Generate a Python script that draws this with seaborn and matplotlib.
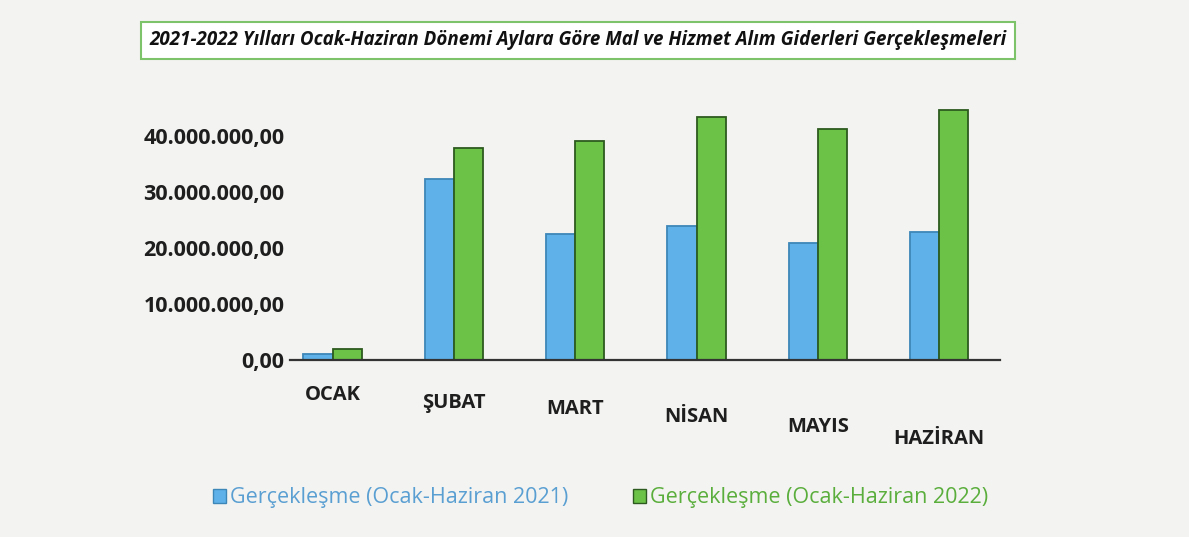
import pandas as pd
import seaborn as sns
import matplotlib.pyplot as plt
import matplotlib.transforms as mtransforms
from matplotlib.ticker import FuncFormatter

months = ['OCAK', 'ŞUBAT', 'MART', 'NİSAN', 'MAYIS', 'HAZİRAN']
values_2021 = [1000000, 32300000, 22400000, 23900000, 20800000, 22800000]
values_2022 = [2000000, 37800000, 39100000, 43400000, 41300000, 44700000]
series_names = ['Gerçekleşme (Ocak-Haziran 2021)', 'Gerçekleşme (Ocak-Haziran 2022)']

BLUE = '#5fb2e9'
GREEN = '#6cc247'


def build_frame():
    df = pd.DataFrame({
        'Ay': months * 2,
        'Tutar': values_2021 + values_2022,
        'Seri': [series_names[0]] * len(months) + [series_names[1]] * len(months),
    })
    return df


def tr_format(x, pos=None):
    s = '{:,.2f}'.format(x)
    return s.replace(',', 'X').replace('.', ',').replace('X', '.')


def draw(df):
    fig = plt.figure(figsize=(11.89, 5.37), dpi=100, facecolor='#f3f3f1')
    ax = fig.add_axes([0.244, 0.33, 0.597, 0.50])
    ax.set_facecolor('none')

    sns.barplot(data=df, x='Ay', y='Tutar', hue='Seri', hue_order=series_names,
                palette=[BLUE, GREEN], saturation=1, width=0.48, ax=ax, legend=False)
    for bar, col in zip(ax.patches, [BLUE] * 6 + [GREEN] * 6):
        bar.set_edgecolor('#3d86b8' if col == BLUE else '#2c5a1f')
        bar.set_linewidth(1.3)

    ax.set_xlim(-0.35, 5.5)
    ax.set_ylim(0, 48000000)
    ax.set_yticks([0, 10000000, 20000000, 30000000, 40000000])
    ax.yaxis.set_major_formatter(FuncFormatter(tr_format))
    ax.set_xlabel('')
    ax.set_ylabel('')
    ax.tick_params(axis='y', length=0, labelsize=15.5, pad=4, labelcolor='#1e1e1e')
    ax.tick_params(axis='x', length=0, labelsize=14.5, pad=18, labelcolor='#1e1e1e')
    for lab in ax.get_yticklabels() + ax.get_xticklabels():
        lab.set_fontweight('bold')
    # the original is drawn in perspective, so the month labels step down
    drops = [0, 8, 14, 22, 32, 44]
    for lab, d in zip(ax.get_xticklabels(), drops):
        lab.set_transform(lab.get_transform() + mtransforms.ScaledTranslation(0, -d / 100, fig.dpi_scale_trans))
    for side in ['top', 'right', 'left']:
        ax.spines[side].set_visible(False)
    ax.spines['bottom'].set_color('#333333')
    ax.spines['bottom'].set_linewidth(1.6)

    fig.text(0.486, 0.925, '2021-2022 Yılları Ocak-Haziran Dönemi Aylara Göre Mal ve Hizmet Alım Giderleri Gerçekleşmeleri',
             ha='center', va='center', fontsize=13.5, fontweight='bold', style='italic', color='#111111',
             bbox=dict(boxstyle='square,pad=0.45', facecolor='white', edgecolor='#7cc36a', linewidth=1.5))

    handles = [plt.Rectangle((0, 0), 1, 1, facecolor=BLUE, edgecolor='#3d86b8'),
               plt.Rectangle((0, 0), 1, 1, facecolor=GREEN, edgecolor='#2c5a1f')]
    fig.legend(handles, series_names, loc='center', bbox_to_anchor=(0.505, 0.073), ncol=2,
               frameon=False, fontsize=15.5, handlelength=0.6, handleheight=0.6,
               handletextpad=0.2, columnspacing=3.0, labelcolor=['#5a9fd2', '#5aae3c'])

    fig.savefig('out.png', dpi=100, facecolor=fig.get_facecolor())


if __name__ == "__main__":
    sns.set_theme(style='white')
    plt.rcParams['font.family'] = ['Open Sans', 'DejaVu Sans']
    df = build_frame()
    draw(df)
